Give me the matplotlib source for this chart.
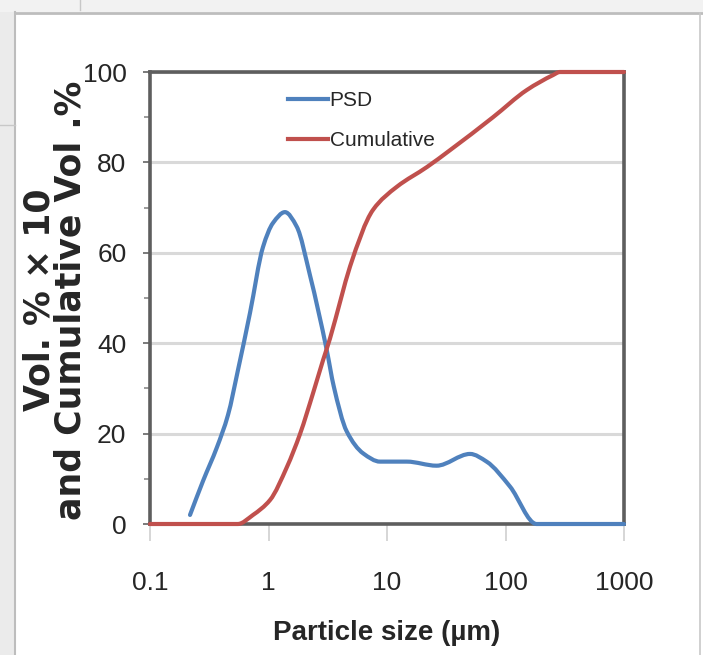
import matplotlib
matplotlib.use("Agg")
import numpy as np
import matplotlib.pyplot as plt
from matplotlib import font_manager
from matplotlib.patches import Rectangle, PathPatch
from matplotlib.lines import Line2D
from matplotlib.path import Path
from matplotlib.ticker import FixedLocator, MultipleLocator

# ---------------- data ----------------
psd_size = [0.2176, 0.280, 0.3675, 0.455, 0.553, 0.698, 0.899, 1.091, 1.377, 1.73,
            2.24, 3.10, 3.55, 4.57, 6.31, 8.73, 14.7, 26.2, 50.2, 69.3,
            109.0, 183.0, 1000.0]
psd_vol = [2.0, 9.5, 17.0, 24.1, 34.1, 46.7, 61.3, 66.6, 69.0, 65.8,
           55.0, 38.5, 30.5, 20.5, 15.6, 13.8, 13.8, 12.9, 15.5, 13.8,
           8.3, 0.0, 0.0]

cum_size = [0.1, 0.55, 0.74, 1.03, 1.43, 1.85, 2.38, 2.89, 3.3, 4.1,
            4.88, 7.62, 12.1, 21.8, 34.0, 78.5, 151.0, 251.0, 288.0, 1000.0]
cum_vol = [0.0, 0.0, 2.0, 5.3, 12.6, 20.0, 29.0, 36.3, 41.0, 50.0,
           57.0, 69.5, 74.6, 79.0, 82.7, 90.0, 96.0, 99.3, 100.0, 100.0]

series_names = ["PSD", "Cumulative"]
series_colors = ["#4f81bd", "#c0504d"]
x_ticks = [0.1, 1, 10, 100, 1000]
x_tick_labels = ["0.1", "1", "10", "100", "1000"]
y_ticks = [0, 20, 40, 60, 80, 100]
y_tick_labels = ["0", "20", "40", "60", "80", "100"]
x_label = "Particle size (\u00b5m)"
y_label = "Vol. % \u00d7 10\nand Cumulative Vol .%"


def smoothed_path(xs, ys):
    """Smoothed line (monotone cubic Hermite as Bezier segments, log-x space)."""
    lx = np.log10(np.asarray(xs, float))
    y = np.asarray(ys, float)
    n = len(lx)
    h = np.diff(lx)
    dl = np.diff(y) / h
    m = np.zeros(n)
    m[0], m[-1] = dl[0], dl[-1]
    for k in range(1, n - 1):
        if dl[k - 1] * dl[k] <= 0:
            m[k] = 0.0
        else:
            w1 = 2 * h[k] + h[k - 1]
            w2 = h[k] + 2 * h[k - 1]
            m[k] = (w1 + w2) / (w1 / dl[k - 1] + w2 / dl[k])
    verts = [(xs[0], ys[0])]
    codes = [Path.MOVETO]
    for k in range(n - 1):
        c1 = (lx[k] + h[k] / 3, y[k] + m[k] * h[k] / 3)
        c2 = (lx[k + 1] - h[k] / 3, y[k + 1] - m[k + 1] * h[k] / 3)
        verts += [(10 ** c1[0], c1[1]), (10 ** c2[0], c2[1]), (xs[k + 1], ys[k + 1])]
        codes += [Path.CURVE4] * 3
    return Path(verts, codes)


# ---------------- fonts ----------------
names = {f.name for f in font_manager.fontManager.ttflist}
narrow = "Liberation Sans Narrow" if "Liberation Sans Narrow" in names else "Liberation Sans"
tick_fs, leg_fs, xl_fs = 19, 15, 20

# ---------------- figure ----------------
W, H = 703, 655
fig = plt.figure(figsize=(W / 100, H / 100), dpi=100)
fig.patch.set_facecolor("white")

# screenshot frame (window border)
fig.add_artist(Rectangle((0, 0), 15 / W, 1, transform=fig.transFigure,
                         facecolor="#ebebeb", edgecolor="none", zorder=0))
fig.add_artist(Rectangle((0, 1 - 12 / H), 1, 12 / H, transform=fig.transFigure,
                         facecolor="#f2f2f2", edgecolor="none", zorder=0))
fig.add_artist(Line2D([15 / W, 15 / W], [0, 1 - 12 / H], transform=fig.transFigure,
                      color="#bdbdbd", lw=1.5))
fig.add_artist(Line2D([15 / W, 1], [1 - 13 / H, 1 - 13 / H], transform=fig.transFigure,
                      color="#bdbdbd", lw=2.0))
fig.add_artist(Line2D([700 / W, 700 / W], [0, 1 - 13 / H], transform=fig.transFigure,
                      color="#c8c8c8", lw=1.2))
fig.add_artist(Line2D([80 / W, 80 / W], [1 - 10 / H, 1], transform=fig.transFigure,
                      color="#c8c8c8", lw=1.0))
fig.add_artist(Line2D([0, 15 / W], [1 - 125 / H, 1 - 125 / H], transform=fig.transFigure,
                      color="#c8c8c8", lw=1.0))

ax = fig.add_axes([150 / W, (H - 524) / H, 474 / W, 452 / H])
ax.set_xscale("log")
ax.set_xlim(0.1, 1000)
ax.set_ylim(0, 100)

for s in ax.spines.values():
    s.set_color("#5e5e5e")
    s.set_linewidth(2.6)

ax.set_axisbelow(True)
ax.yaxis.grid(True, which="major", color="#d9d9d9", lw=2.2)
ax.xaxis.grid(False)

ax.xaxis.set_major_locator(FixedLocator(x_ticks))
ax.set_xticklabels(x_tick_labels)
ax.xaxis.set_minor_locator(FixedLocator([]))
ax.yaxis.set_major_locator(FixedLocator(y_ticks))
ax.set_yticklabels(y_tick_labels)
ax.yaxis.set_minor_locator(MultipleLocator(10))

ax.tick_params(axis="x", which="major", direction="out", length=12, width=1.2,
               color="#cfcfcf", pad=22, labelsize=tick_fs, labelcolor="#262626")
ax.tick_params(axis="y", which="major", direction="out", length=5, width=1.4,
               color="#7a7a7a", pad=12, labelsize=tick_fs, labelcolor="#262626")
ax.tick_params(axis="y", which="minor", direction="out", length=4, width=1.2,
               color="#8a8a8a")
for lab in ax.get_xticklabels() + ax.get_yticklabels():
    lab.set_fontfamily(narrow)

handles = []
for xs, ys, col, name in [(psd_size, psd_vol, series_colors[0], series_names[0]),
                          (cum_size, cum_vol, series_colors[1], series_names[1])]:
    patch = PathPatch(smoothed_path(xs, ys), transform=ax.transData, fill=False,
                      edgecolor=col, lw=3.0, zorder=4, clip_on=False,
                      joinstyle="round", capstyle="round")
    ax.add_patch(patch)
    handles.append(Line2D([], [], color=col, lw=3.0, label=name))

leg = ax.legend(handles=handles, loc="upper left",
                bbox_to_anchor=((288 - 150) / 474, (524 - 91) / 452),
                frameon=False, handlelength=1.9, handletextpad=0.1,
                labelspacing=1.0, borderpad=0, borderaxespad=0,
                prop={"family": narrow, "size": leg_fs})
for t in leg.get_texts():
    t.set_color("#262626")

ax.set_xlabel(x_label, fontsize=xl_fs, fontweight="bold", family=narrow,
              color="#262626", labelpad=18)

fig.text(55 / W, 1 - 300 / H, y_label, rotation=90, ha="center", va="center",
         multialignment="center", fontsize=25, fontweight="bold",
         family="DejaVu Sans", color="#262626", linespacing=0.92)

fig.savefig("out.png", dpi=100, facecolor=fig.get_facecolor())
